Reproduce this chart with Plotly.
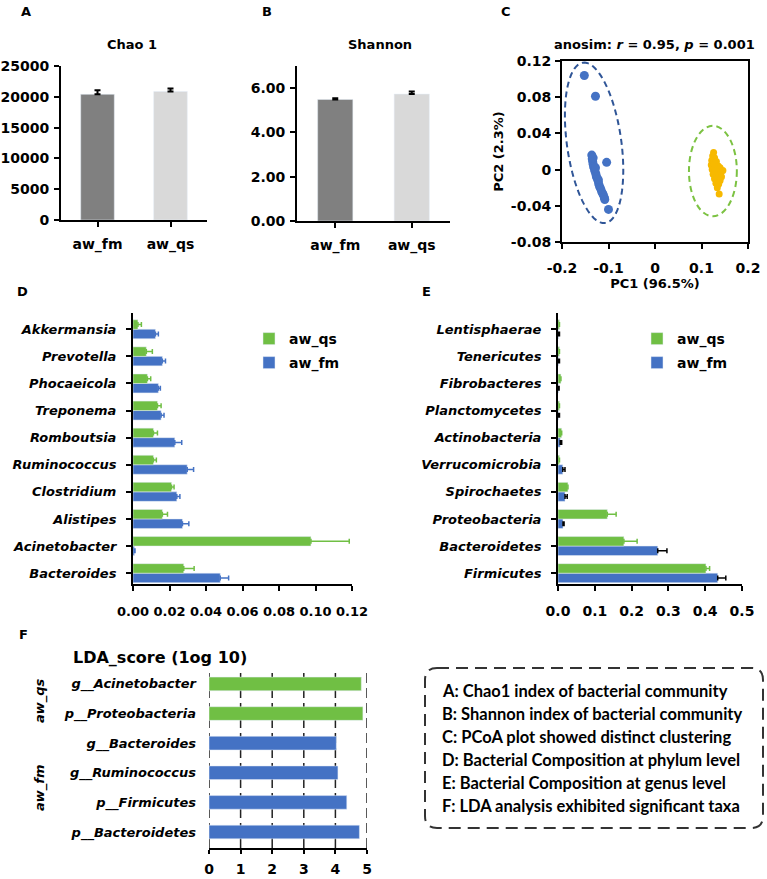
import numpy as np
import plotly.graph_objects as go

W, H = 767, 879
def fx(p):
    return p / W
def fy(p):
    return 1 - p / H

# ---------------- data ----------------
groups = ["aw_fm", "aw_qs"]
chao1 = [20400, 20850]
chao1_err = [650, 500]
shannon = [5.49, 5.73]
shannon_err = [0.05, 0.12]
alpha_colors = ["#808080", "#D9D9D9"]

pcoa_fm_x = [-0.152, -0.128, -0.104, -0.100, -0.136, -0.135, -0.134, -0.133, -0.132, -0.130,
             -0.129, -0.127, -0.126, -0.124, -0.122, -0.121, -0.119, -0.117, -0.115, -0.113,
             -0.111, -0.109, -0.108, -0.133, -0.128, -0.122]
pcoa_fm_y = [0.104, 0.081, 0.008, -0.044, 0.016, 0.012, 0.009, 0.006, 0.003, 0.000,
             -0.002, -0.005, -0.008, -0.010, -0.013, -0.016, -0.019, -0.021, -0.024, -0.026,
             -0.028, -0.031, -0.033, 0.013, 0.002, -0.011]
pcoa_qs_x = [0.126, 0.124, 0.128, 0.122, 0.127, 0.132, 0.121, 0.126, 0.131, 0.136, 0.140,
             0.123, 0.128, 0.134, 0.142, 0.146, 0.125, 0.131, 0.137, 0.143, 0.128, 0.134,
             0.140, 0.131, 0.137, 0.134, 0.138]
pcoa_qs_y = [0.019, 0.015, 0.013, 0.010, 0.008, 0.009, 0.005, 0.004, 0.003, 0.004, 0.002,
             0.000, -0.001, -0.002, -0.003, -0.001, -0.005, -0.006, -0.007, -0.008, -0.010,
             -0.011, -0.012, -0.015, -0.016, -0.020, -0.027]
# ellipse parameters: centre, major half-axis vector, minor half-axis vector
ell_fm_center = (-0.131, 0.0296)
ell_fm_major = (-0.024, 0.0886)
ell_fm_minor = (0.058, 0.004)
ell_qs_box = (0.073, 0.176, -0.0516, 0.0484)

genus = ["Bacteroides", "Acinetobacter", "Alistipes", "Clostridium", "Ruminococcus",
         "Romboutsia", "Treponema", "Phocaeicola", "Prevotella", "Akkermansia"]
genus_qs = [0.0278, 0.0975, 0.0161, 0.0211, 0.0112, 0.0112, 0.0134, 0.0079, 0.0073, 0.0027]
genus_qs_err = [0.0057, 0.0210, 0.0028, 0.0014, 0.0016, 0.0022, 0.0020, 0.0018, 0.0033, 0.0019]
genus_fm = [0.0478, 0.0008, 0.0271, 0.0240, 0.0297, 0.0229, 0.0154, 0.0139, 0.0161, 0.0123]
genus_fm_err = [0.0046, 0.0003, 0.0035, 0.0017, 0.0035, 0.0038, 0.0016, 0.0011, 0.0017, 0.0016]

phylum = ["Firmicutes", "Bacteroidetes", "Proteobacteria", "Spirochaetes", "Verrucomicrobia",
          "Actinobacteria", "Planctomycetes", "Fibrobacteres", "Tenericutes", "Lentisphaerae"]
phylum_qs = [0.402, 0.179, 0.134, 0.027, 0.004, 0.010, 0.004, 0.008, 0.004, 0.004]
phylum_qs_err = [0.010, 0.036, 0.024, 0.0, 0.0, 0.0, 0.0, 0.0, 0.0, 0.0]
phylum_fm = [0.434, 0.271, 0.0135, 0.019, 0.013, 0.006, 0.001, 0.001, 0.001, 0.001]
phylum_fm_err = [0.022, 0.025, 0.003, 0.006, 0.006, 0.004, 0.003, 0.002, 0.003, 0.003]

lda_taxa = ["p__Bacteroidetes", "p__Firmicutes", "g__Ruminococcus", "g__Bacteroides",
            "p__Proteobacteria", "g__Acinetobacter"]
lda_score = [4.76, 4.36, 4.08, 4.03, 4.87, 4.82]
lda_group = ["aw_fm", "aw_fm", "aw_fm", "aw_fm", "aw_qs", "aw_qs"]
lda_ticks = [0, 1, 2, 3, 4, 5]

summary_lines = [
    "A: Chao1 index of bacterial community",
    "B: Shannon index of bacterial community",
    "C: PCoA plot showed distinct clustering",
    "D: Bacterial Composition at phylum level",
    "E: Bacterial Composition at genus level",
    "F: LDA analysis exhibited significant taxa",
]

GREEN = "#70BF44"
BLUE = "#4472C4"
GOLD = "#F7B900"
group_color = {"aw_qs": GREEN, "aw_fm": BLUE}

PF = "DejaVu Sans"
LF = "Lato"
TF = dict(family=PF, size=13, color="black", weight="bold")
TF14 = dict(family=PF, size=14, color="black", weight="bold")
TFI = dict(family=PF, size=13, color="black", weight="bold", style="italic")

fig = go.Figure()

# ---------- A ----------
fig.add_trace(go.Bar(x=groups, y=chao1, marker_color=alpha_colors, width=0.46, offset=-0.23,
                     error_y=dict(type="data", array=chao1_err, arrayminus=[0, 0], symmetric=False,
                                  color="black", thickness=2, width=3),
                     xaxis="x", yaxis="y", showlegend=False))
# ---------- B ----------
fig.add_trace(go.Bar(x=groups, y=shannon, marker_color=alpha_colors, width=0.46, offset=-0.23,
                     error_y=dict(type="data", array=shannon_err, arrayminus=[0, 0], symmetric=False,
                                  color="black", thickness=2, width=3),
                     xaxis="x2", yaxis="y2", showlegend=False))
# ---------- C ----------
fig.add_trace(go.Scatter(x=pcoa_fm_x, y=pcoa_fm_y, mode="markers",
                         marker=dict(color=BLUE, size=9), xaxis="x3", yaxis="y3", showlegend=False))
fig.add_trace(go.Scatter(x=pcoa_qs_x, y=pcoa_qs_y, mode="markers",
                         marker=dict(color=GOLD, size=7), xaxis="x3", yaxis="y3", showlegend=False))

# ---------- D ----------
fig.add_trace(go.Bar(y=genus, x=genus_fm, orientation="h", marker_color=BLUE, width=0.35, offset=-0.35,
                     error_x=dict(type="data", array=genus_fm_err, arrayminus=[0] * 10, symmetric=False,
                                  color=BLUE, thickness=1.5, width=2.5),
                     xaxis="x4", yaxis="y4", name="aw_fm", legend="legend2"))
fig.add_trace(go.Bar(y=genus, x=genus_qs, orientation="h", marker_color=GREEN, width=0.35, offset=0,
                     error_x=dict(type="data", array=genus_qs_err, arrayminus=[0] * 10, symmetric=False,
                                  color=GREEN, thickness=1.5, width=2.5),
                     xaxis="x4", yaxis="y4", name="aw_qs", legend="legend"))
# ---------- E ----------
fig.add_trace(go.Bar(y=phylum, x=phylum_fm, orientation="h", marker_color=BLUE, width=0.35, offset=-0.35,
                     error_x=dict(type="data", array=phylum_fm_err, arrayminus=[0] * 10, symmetric=False,
                                  color="black", thickness=1.5, width=2.5),
                     xaxis="x5", yaxis="y5", name="aw_fm", legend="legend4"))
fig.add_trace(go.Bar(y=phylum, x=phylum_qs, orientation="h", marker_color=GREEN, width=0.35, offset=0,
                     error_x=dict(type="data", array=phylum_qs_err, arrayminus=[0] * 10, symmetric=False,
                                  color=GREEN, thickness=1.5, width=2.5),
                     xaxis="x5", yaxis="y5", name="aw_qs", legend="legend3"))
# ---------- F ----------
fig.add_trace(go.Bar(y=lda_taxa, x=lda_score, orientation="h",
                     marker_color=[group_color[g] for g in lda_group], width=0.46, offset=-0.23,
                     xaxis="x6", yaxis="y6", showlegend=False))


def ax(**kw):
    d = dict(showline=True, linecolor="black", linewidth=2, ticks="outside", ticklen=5, tickwidth=2,
             tickcolor="black", showgrid=False, zeroline=False, tickfont=TF14, fixedrange=True,
             automargin=False, tickangle=0)
    d.update(kw)
    return d

lay = dict(
    width=W, height=H, autosize=False, margin=dict(l=0, r=0, t=0, b=0, pad=0),
    paper_bgcolor="white", plot_bgcolor="white", barmode="overlay",
    # A
    xaxis=ax(domain=[fx(61), fx(207)], anchor="y", type="category", range=[-0.5, 1.5],
             ticklabelstandoff=5),
    yaxis=ax(domain=[fy(220), fy(66)], anchor="x", range=[0, 25000], tickformat="d",
             tickvals=[0, 5000, 10000, 15000, 20000, 25000], ticklabelstandoff=2),
    # B
    xaxis2=ax(domain=[fx(297), fx(450)], anchor="y2", type="category", range=[-0.5, 1.5],
              ticklabelstandoff=5),
    yaxis2=ax(domain=[fy(221), fy(66)], anchor="x2", range=[0, 7], tickvals=[0, 2, 4, 6],
              tickformat=".2f", ticklabelstandoff=2),
    # C
    xaxis3=ax(domain=[fx(562), fx(748)], anchor="y3", range=[-0.2, 0.2], mirror=True,
              tickvals=[-0.2, -0.1, 0, 0.1, 0.2], ticktext=["-0.2", "-0.1", "0", "0.1", "0.2"],
              ticklabelstandoff=7,
              title=dict(text="PC1 (96.5%)", font=TF, standoff=2)),
    yaxis3=ax(domain=[fy(242), fy(61)], anchor="x3", range=[-0.08, 0.12], mirror=True,
              tickvals=[-0.08, -0.04, 0, 0.04, 0.08, 0.12],
              ticktext=["-0.08", "-0.04", "0", "0.04", "0.08", "0.12"], ticklabelstandoff=1,
              title=dict(text="PC2 (2.3%)", font=TF, standoff=4)),
    # D
    xaxis4=ax(domain=[fx(133), fx(352)], anchor="y4", range=[0, 0.12], tickfont=TF,
              tickvals=[0, 0.02, 0.04, 0.06, 0.08, 0.10, 0.12], tickformat=".2f", ticklabelstandoff=9),
    yaxis4=ax(domain=[fy(584), fy(313)], anchor="x4", type="category", categoryorder="array",
              categoryarray=genus, range=[-0.4, 9.6], tickfont=TFI, ticklabelstandoff=7),
    # E
    xaxis5=ax(domain=[fx(558), fx(742)], anchor="y5", range=[0, 0.5],
              tickvals=[0, 0.1, 0.2, 0.3, 0.4, 0.5], tickformat=".1f", ticklabelstandoff=8),
    yaxis5=ax(domain=[fy(584), fy(313)], anchor="x5", type="category", categoryorder="array",
              categoryarray=phylum, range=[-0.4, 9.6], tickfont=TFI, ticklabelstandoff=7),
    # F
    xaxis6=ax(domain=[fx(209), fx(367)], anchor="y6", range=[0, 5], tickvals=lda_ticks,
              ticklen=4, tickfont=dict(family=PF, size=14, color="black", weight="bold"),
              ticklabelstandoff=3),
    yaxis6=ax(domain=[fy(848), fy(670)], anchor="x6", type="category", categoryorder="array",
              categoryarray=lda_taxa, range=[-0.54, 5.47], showline=False, ticks="",
              ticklabelstandoff=12,
              tickfont=dict(family=PF, size=13, color="black", weight="bold", style="italic")),
)

legfont = dict(family=PF, size=14, color="black", weight="bold")
def leg(x, y):
    return dict(x=fx(x), y=fy(y), xanchor="left", yanchor="middle", font=legfont,
                bgcolor="rgba(0,0,0,0)", itemwidth=30, borderwidth=0)
lay["legend"] = leg(249, 339)
lay["legend2"] = leg(249, 363)
lay["legend3"] = leg(637, 339)
lay["legend4"] = leg(637, 363)
fig.update_layout(**lay)

# ---------- annotations ----------
ann = []
def text(x, y, s, font, xanchor="center", yanchor="middle", angle=0):
    ann.append(dict(x=fx(x), y=fy(y), xref="paper", yref="paper", text=s, showarrow=False,
                    font=font, xanchor=xanchor, yanchor=yanchor, textangle=angle))

LETTER = dict(family=PF, size=13, color="black", weight="bold")
for s, x, y in [("A", 26, 12), ("B", 267, 12), ("C", 506, 12), ("D", 22, 291), ("E", 426, 291), ("F", 23, 634)]:
    text(x, y, s, LETTER)
text(132, 45, "Chao 1", TF)
text(380, 45, "Shannon", TF)
text(654, 44, "anosim: <i>r</i> = 0.95, <i>p</i> = 0.001", dict(family=PF, size=13, color="black", weight="bold"))
text(160, 657, "LDA_score (1og 10)", dict(family=PF, size=16, color="black", weight="bold"))
GF = dict(family=PF, size=13, color="black", weight="bold", style="italic")
text(40, 701, "aw_qs", GF, angle=-90)
text(40, 788, "aw_fm", GF, angle=-90)
BF = dict(family=LF, size=16.5, color="black", weight="bold")
for i, s in enumerate(summary_lines):
    text(440, 691 + 23 * i, s, BF, xanchor="left")
fig.update_layout(annotations=ann)

# ---------- shapes ----------
shapes = []
# ellipses in panel C
t = np.linspace(0, 2 * np.pi, 90)
ex = ell_fm_center[0] + ell_fm_major[0] * np.cos(t) + ell_fm_minor[0] * np.sin(t)
ey = ell_fm_center[1] + ell_fm_major[1] * np.cos(t) + ell_fm_minor[1] * np.sin(t)
path = "M " + " L ".join(f"{a:.5f},{b:.5f}" for a, b in zip(ex, ey)) + " Z"
shapes.append(dict(type="path", path=path, xref="x3", yref="y3",
                   line=dict(color="#2F5597", width=2, dash="6px,4px")))
shapes.append(dict(type="circle", xref="x3", yref="y3", x0=ell_qs_box[0], x1=ell_qs_box[1],
                   y0=ell_qs_box[2], y1=ell_qs_box[3],
                   line=dict(color="#7CC242", width=2, dash="6px,4px")))
# LDA dashed reference lines
for v in lda_ticks:
    shapes.append(dict(type="line", xref="x6", yref="y6 domain", x0=v, x1=v, y0=0, y1=1,
                       line=dict(color="#222222", width=1.5, dash="10px,5px"), layer="below"))
# rounded dashed summary box
x0, x1, y0, y1, r = fx(425), fx(763), fy(668), fy(828), 12
rx, ry = r / W, r / H
bp = (f"M {x0+rx},{y0} L {x1-rx},{y0} Q {x1},{y0} {x1},{y0-ry} L {x1},{y1+ry} "
      f"Q {x1},{y1} {x1-rx},{y1} L {x0+rx},{y1} Q {x0},{y1} {x0},{y1+ry} L {x0},{y0-ry} "
      f"Q {x0},{y0} {x0+rx},{y0} Z")
shapes.append(dict(type="path", path=bp, xref="paper", yref="paper",
                   line=dict(color="#333333", width=2, dash="12px,7px")))
fig.update_layout(shapes=shapes)

fig.write_html("out.html",
               post_script="document.body.style.margin='0';document.body.style.overflow='hidden';")
